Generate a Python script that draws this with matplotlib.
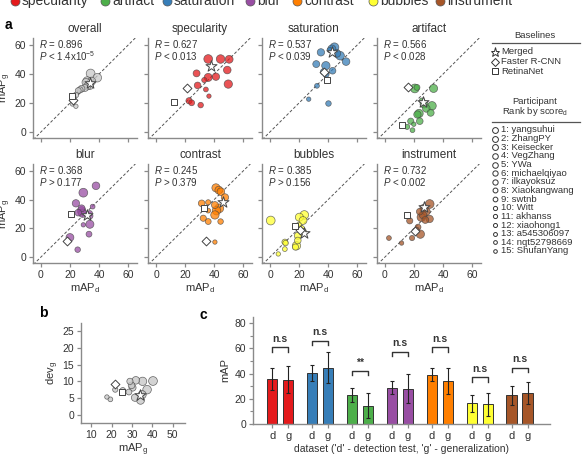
import numpy as np
import matplotlib
matplotlib.use('Agg')
import matplotlib.pyplot as plt

plt.rcParams['font.family'] = ['Liberation Sans', 'DejaVu Sans']
plt.rcParams['mathtext.fontset'] = 'custom'
plt.rcParams['mathtext.rm'] = 'Liberation Sans'
plt.rcParams['mathtext.it'] = 'Liberation Sans:italic'
plt.rcParams['mathtext.bf'] = 'Liberation Sans:bold'

# ---- data ----
categories = ['specularity', 'artifact', 'saturation', 'blur', 'contrast', 'bubbles', 'instrument']
cat_colors = ['#e41a1c', '#4daf4a', '#377eb8', '#984ea3', '#ff7f00', '#ffff33', '#a65628']

participants = ['yangsuhui', 'ZhangPY', 'Keisecker', 'VegZhang', 'YWa', 'michaelqiyao',
                'ilkayoksuz', 'Xiaokangwang', 'swtnb', 'Witt', 'akhanss', 'xiaohong1',
                'a545306097', 'nqt52798669', 'ShufanYang']
baseline_names = ['Merged', 'Faster R-CNN', 'RetinaNet']

# panel a: mAP_d / mAP_g per participant (rank order), baselines (merged, faster, retina)
overall_d = [34.1, 38.7, 31.8, 34.8, 30.9, 33.6, 31.8, 30.2, 27.9, 26.8, 25.6, 24.0, 22.7, 21.7, 24.0]
overall_g = [40.3, 37.4, 35.2, 35.0, 34.2, 31.9, 31.5, 30.3, 29.8, 29.0, 28.5, 25.5, 21.8, 19.4, 17.7]
overall_base_d = [33.6, 22.0, 21.0]
overall_base_g = [33.9, 21.8, 25.0]

spec_d = [35.9, 44.4, 49.7, 35.9, 50.3, 49.0, 41.2, 27.9, 28.6, 22.7, 24.5, 30.7, 33.2, 34.3, 36.4]
spec_g = [50.3, 50.3, 33.0, 37.6, 50.1, 42.7, 38.1, 40.4, 32.1, 21.5, 20.1, 18.5, 35.8, 29.3, 24.7]
spec_base_d = [37.5, 21.5, 12.4]
spec_base_g = [45.5, 30.0, 20.8]

sat_d = [44.3, 48.2, 38.4, 42.5, 45.9, 52.3, 35.0, 31.8, 43.0, 36.8, 38.6, 40.2, 41.0, 32.3, 26.6]
sat_g = [58.4, 52.6, 45.7, 57.2, 54.2, 48.5, 54.9, 46.8, 42.2, 41.5, 39.7, 19.6, 56.5, 31.8, 22.6]
sat_base_d = [42.5, 36.8, 39.5]
sat_base_g = [54.9, 41.0, 35.8]

art_d = [20.5, 32.3, 23.4, 33.4, 26.8, 28.4, 22.3, 31.4, 23.9, 17.7, 22.0, 25.5, 15.2, 18.9, 19.8]
art_g = [30.0, 18.0, 12.7, 30.0, 19.2, 16.2, 12.0, 13.2, 7.4, 7.4, 30.7, 21.5, 3.5, 1.2, 5.3]
art_base_d = [26.1, 15.5, 11.8]
art_base_g = [20.8, 31.2, 4.6]

blur_d = [29.1, 27.9, 28.6, 33.6, 19.9, 37.8, 24.0, 27.9, 25.6, 33.6, 33.0, 25.2, 33.6, 35.5, 29.1]
blur_g = [44.8, 32.1, 30.5, 22.8, 13.6, 49.6, 37.4, 33.9, 30.9, 28.6, 15.9, 5.1, 30.5, 35.1, 22.4]
blur_base_d = [31.8, 17.6, 20.4]
blur_base_g = [29.3, 10.8, 30.0]

con_d = [43.5, 41.6, 40.5, 41.2, 43.2, 44.6, 47.4, 40.5, 31.4, 32.5, 35.9, 44.4, 35.9, 35.9, 40.5]
con_g = [33.9, 32.3, 29.3, 48.2, 46.6, 45.5, 41.5, 36.2, 37.4, 27.0, 24.7, 24.7, 38.1, 32.3, 10.4]
con_base_d = [45.8, 34.1, 33.2]
con_base_g = [38.1, 11.3, 34.2]

bub_d = [0.5, 23.6, 18.2, 20.2, 22.7, 21.4, 22.7, 19.1, 19.1, 17.5, 10.2, 10.7, 19.8, 10.2, 5.7]
bub_g = [25.4, 29.3, 7.8, 27.7, 25.4, 19.4, 17.3, 14.8, 11.5, 6.9, 10.4, 9.7, 22.4, 5.5, 2.1]
bub_base_d = [23.2, 20.9, 17.5]
bub_base_g = [16.6, 18.5, 21.7]

ins_d = [30.7, 25.0, 24.3, 26.8, 28.4, 26.1, 30.7, 27.7, 23.9, 17.0, 22.7, 21.6, 18.6, 2.7, 11.4]
ins_g = [36.9, 27.7, 15.9, 33.9, 31.6, 29.3, 26.5, 25.8, 31.6, 25.2, 20.8, 18.9, 13.2, 13.2, 9.7]
ins_base_d = [26.8, 20.5, 15.2]
ins_base_g = [35.0, 18.3, 29.3]

stats_r = ['0.896', '0.627', '0.537', '0.566', '0.368', '0.245', '0.385', '0.732']
stats_p = ['< 1.4x10$^{-5}$', '< 0.013', '< 0.039', '< 0.028', '> 0.177', '> 0.379', '> 0.156', '< 0.002']

# panel b
dev_g = [10.1, 7.5, 10.0, 6.0, 4.3, 10.3, 5.1, 8.1, 8.8, 10.0, 6.8, 7.3, 7.5, 4.6, 5.3]
base_dev_g = [5.8, 9.1, 6.8]

# panel c (order: specularity, saturation, artifact, blur, contrast, bubbles, instrument)
bar_names = ['specularity', 'saturation', 'artifact', 'blur', 'contrast', 'bubbles', 'instrument']
bar_d = [35.5, 40.3, 22.9, 28.9, 39.2, 16.6, 22.9]
bar_g = [35.0, 44.7, 14.5, 28.2, 34.0, 15.5, 24.5]
err_d = [8.7, 6.5, 5.8, 5.0, 4.9, 6.7, 7.6]
err_g = [10.7, 12.2, 9.8, 11.5, 10.2, 9.5, 9.0]
sig_label = ['n.s', 'n.s', '**', 'n.s', 'n.s', 'n.s', 'n.s']
sig_height = [60.8, 66.0, 42.0, 57.3, 60.8, 37.0, 44.7]

# ---- layout ----
W, H = 588, 457
fig = plt.figure(figsize=(W / 100, H / 100), dpi=100)


def rect(l, t, w, h):
    return [l / W, 1 - (t + h) / H, w / W, h / H]


spine_c = '#8a8a8a'
txt_c = '#333333'


def style(ax):
    for s in ['top', 'right']:
        ax.spines[s].set_visible(False)
    for s in ['left', 'bottom']:
        ax.spines[s].set_color(spine_c)
        ax.spines[s].set_linewidth(1.0)
    ax.tick_params(direction='out', length=3, width=0.9, color=spine_c,
                   labelcolor=txt_c, labelsize=7.5, pad=2)


rank_s = [40, 38, 36, 34, 32, 30, 28, 25, 23, 20, 18, 16, 14, 12, 10]
base_markers = ['*', 'D', 's']
base_s = [70, 20, 24]

panels = [
    ('overall', overall_d, overall_g, overall_base_d, overall_base_g, '#c8c8c8'),
    ('specularity', spec_d, spec_g, spec_base_d, spec_base_g, cat_colors[0]),
    ('saturation', sat_d, sat_g, sat_base_d, sat_base_g, cat_colors[2]),
    ('artifact', art_d, art_g, art_base_d, art_base_g, cat_colors[1]),
    ('blur', blur_d, blur_g, blur_base_d, blur_base_g, cat_colors[3]),
    ('contrast', con_d, con_g, con_base_d, con_base_g, cat_colors[4]),
    ('bubbles', bub_d, bub_g, bub_base_d, bub_base_g, cat_colors[5]),
    ('instrument', ins_d, ins_g, ins_base_d, ins_base_g, cat_colors[6]),
]

col_left = [33, 148, 262, 377]
row_top = [38, 164]
row_h = [100, 99]

for i, (name, xd, yg, bd, bg, col) in enumerate(panels):
    r, c = divmod(i, 4)
    ax = fig.add_axes(rect(col_left[c], row_top[r], 104, row_h[r]))
    style(ax)
    ax.plot([-10, 70], [-10, 70], ls=(0, (3, 2)), color='#555555', lw=0.7, zorder=1)
    ax.scatter(xd, yg, s=rank_s, facecolor=col, edgecolor='#444444', linewidth=0.5,
               alpha=0.75, zorder=3)
    for k in range(3):
        ax.scatter(bd[k], bg[k], s=base_s[k], marker=base_markers[k], facecolor='white',
                   edgecolor='#444444', linewidth=0.7, zorder=4)
    ax.set_xlim(-5.5, 66)
    ax.set_ylim(-4.2, 64.8)
    ax.set_xticks([0, 20, 40, 60])
    ax.set_yticks([0, 20, 40, 60])
    if c != 0:
        ax.set_yticklabels([])
    else:
        ax.set_ylabel('mAP$_\\mathrm{g}$', fontsize=8, color=txt_c, labelpad=1)
    if r == 0:
        ax.set_xticklabels([])
    else:
        ax.set_xlabel('mAP$_\\mathrm{d}$', fontsize=8, color=txt_c, labelpad=1)
    ax.set_title(name, fontsize=8.5, color=txt_c, pad=4)
    ax.text(0.06, 0.935, '$R$ = ' + stats_r[i], transform=ax.transAxes, fontsize=7,
            color=txt_c, va='center')
    ax.text(0.06, 0.815, '$P$ ' + stats_p[i], transform=ax.transAxes, fontsize=7,
            color=txt_c, va='center')

# panel b
axb = fig.add_axes(rect(81, 323, 104, 100))
style(axb)
axb.scatter(overall_g, dev_g, s=rank_s, facecolor='#c8c8c8', edgecolor='#444444',
            linewidth=0.5, alpha=0.8, zorder=3)
for k in range(3):
    axb.scatter(overall_base_g[k], base_dev_g[k], s=base_s[k], marker=base_markers[k],
                facecolor='white', edgecolor='#444444', linewidth=0.7, zorder=4)
axb.set_xlim(5, 56)
axb.set_ylim(-2.5, 27.5)
axb.set_xticks([10, 20, 30, 40, 50])
axb.set_yticks([0, 5, 10, 15, 20, 25])
axb.set_xlabel('mAP$_\\mathrm{g}$', fontsize=8, color=txt_c, labelpad=1)
axb.set_ylabel('dev$_\\mathrm{g}$', fontsize=8, color=txt_c, labelpad=1)

# panel c
axc = fig.add_axes(rect(253, 317, 297, 107))
style(axc)
gpos = np.arange(len(bar_names)) * 2.5
bw = 0.65
for j in range(len(bar_names)):
    bc = cat_colors[categories.index(bar_names[j])]
    axc.bar(gpos[j], bar_d[j], bw, color=bc, edgecolor='#333333', linewidth=0.7,
            yerr=err_d[j], capsize=1.5, error_kw=dict(lw=0.8, ecolor='#222222', capthick=0.8))
    axc.bar(gpos[j] + 1, bar_g[j], bw, color=bc, edgecolor='#333333', linewidth=0.7,
            yerr=err_g[j], capsize=1.5, error_kw=dict(lw=0.8, ecolor='#222222', capthick=0.8))
    h = sig_height[j]
    axc.plot([gpos[j], gpos[j], gpos[j] + 1, gpos[j] + 1], [h - 3.3, h, h, h - 3.3],
             color='#333333', lw=1.0)
    axc.text(gpos[j] + 0.5, h + (2.5 if sig_label[j] == '**' else 3.0), sig_label[j],
             ha='center', va='bottom', fontsize=7.5, fontweight='bold', color=txt_c)
xt = np.concatenate([gpos, gpos + 1])
axc.set_xticks(np.sort(xt))
axc.set_xticklabels(['d', 'g'] * len(bar_names), fontsize=8)
axc.set_xlim(-1.2, gpos[-1] + 1 + 1.4)
axc.set_ylim(0, 85)
axc.set_yticks([0, 20, 40, 60, 80])
axc.set_yticks(np.arange(10, 85, 20), minor=True)
axc.tick_params(which='minor', length=2, width=0.8, color=spine_c)
axc.tick_params(axis='x', length=3)
axc.set_ylabel('mAP', fontsize=8, color=txt_c, labelpad=3)
axc.set_xlabel("dataset ('d' - detection test, 'g' - generalization)", fontsize=7.5,
               color=txt_c, labelpad=2)

# overlay: panel letters and legends
ov = fig.add_axes([0, 0, 1, 1])
ov.set_xlim(0, W)
ov.set_ylim(H, 0)
ov.axis('off')
ov.text(8, 25, 'a', fontsize=10, fontweight='bold', va='center', ha='center')
ov.text(43, 313, 'b', fontsize=10, fontweight='bold', va='center', ha='center')
ov.text(203, 315, 'c', fontsize=10, fontweight='bold', va='center', ha='center')

top_x = [15, 105, 167, 250, 297, 373, 440]
for k, cat in enumerate(categories):
    ov.plot(top_x[k], 1, 'o', ms=6.5, mfc=cat_colors[k], mec='#555555', mew=0.5, clip_on=False)
    ov.text(top_x[k] + 7, 5, cat, fontsize=10, va='baseline', color=txt_c)

ov.text(535, 35, 'Baselines', fontsize=6.8, ha='center', va='center', color=txt_c)
ov.plot([492, 580], [43, 43], color='#555555', lw=0.9)
base_leg_ms = [6.5, 4, 4]
for k, bn in enumerate(baseline_names):
    y = 52 + k * 9.5
    ov.plot(495, y, base_markers[k], ms=base_leg_ms[k], mfc='white', mec='#333333', mew=0.7)
    ov.text(501, y, bn, fontsize=6.8, va='center', color=txt_c)
ov.text(535, 101, 'Participant', fontsize=6.8, ha='center', va='center', color=txt_c)
ov.text(535, 111, 'Rank by score$_\\mathrm{d}$', fontsize=6.8, ha='center', va='center', color=txt_c)
ov.plot([492, 580], [122, 122], color='#555555', lw=0.9)
leg_ms = [4.2, 4.2, 4.2, 4.0, 4.0, 3.8, 3.8, 3.5, 3.4, 3.0, 3.0, 2.9, 2.8, 2.7, 2.6]
for k, pn in enumerate(participants):
    y = 130 + k * 8.64
    ov.plot(495, y, 'o', ms=leg_ms[k], mfc='white', mec='#333333', mew=0.7)
    ov.text(501, y, '%d: %s' % (k + 1, pn), fontsize=6.8, va='center', color=txt_c)

plt.savefig('out.png', dpi=100)
